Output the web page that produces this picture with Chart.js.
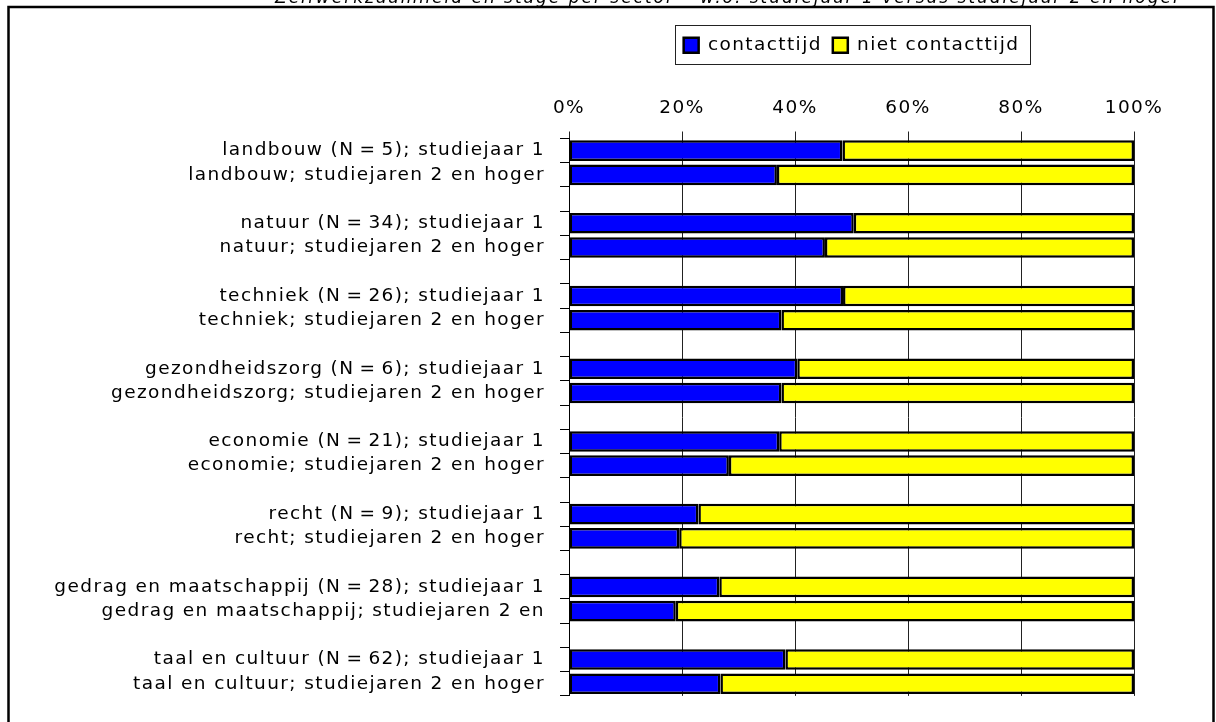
<!DOCTYPE html>
<html>
<head>
<meta charset="utf-8">
<script src="https://cdn.jsdelivr.net/npm/chart.js@4"></script>
<style>
  html, body { margin: 0; padding: 0; background: #fff; }
  #chart { display: block; }
</style>
</head>
<body>
<canvas id="chart" width="1216" height="722"></canvas>
<script>
const chartTitle = 'Zelfwerkzaamheid en stage per sector – w.o. studiejaar 1 versus studiejaar 2 en hoger';

const categories = [
  'landbouw (N\u2009=\u20095); studiejaar 1',
  'landbouw; studiejaren 2 en hoger',
  '',
  'natuur (N\u2009=\u200934); studiejaar 1',
  'natuur; studiejaren 2 en hoger',
  '',
  'techniek (N\u2009=\u200926); studiejaar 1',
  'techniek; studiejaren 2 en hoger',
  '',
  'gezondheidszorg (N\u2009=\u20096); studiejaar 1',
  'gezondheidszorg; studiejaren 2 en hoger',
  '',
  'economie (N\u2009=\u200921); studiejaar 1',
  'economie; studiejaren 2 en hoger',
  '',
  'recht (N\u2009=\u20099); studiejaar 1',
  'recht; studiejaren 2 en hoger',
  '',
  'gedrag en maatschappij (N\u2009=\u200928); studiejaar 1',
  'gedrag en maatschappij; studiejaren 2 en',
  '',
  'taal en cultuur (N\u2009=\u200962); studiejaar 1',
  'taal en cultuur; studiejaren 2 en hoger'
];

const seriesNames = ['contacttijd', 'niet contacttijd'];

const contacttijd = [48.4, 36.8, null, 50.4, 45.3, null, 48.5, 37.6, null, 40.4, 37.6, null,
                     37.2, 28.3, null, 22.9, 19.5, null, 26.6, 18.9, null, 38.3, 26.8];
const nietContacttijd = [51.6, 63.2, null, 49.6, 54.7, null, 51.5, 62.4, null, 59.6, 62.4, null,
                         62.8, 71.7, null, 77.1, 80.5, null, 73.4, 81.1, null, 61.7, 73.2];

const tickLabels = ['0%', '20%', '40%', '60%', '80%', '100%'];

const LETTER_SPACING = '1.4px';

Chart.defaults.font.family = '"DejaVu Sans", sans-serif';
Chart.defaults.font.size = 18.5;
Chart.defaults.color = '#000';

// wide text like the original (Lucida-ish)
const spacingPlugin = {
  id: 'spacing',
  beforeUpdate(chart) { chart.ctx.letterSpacing = LETTER_SPACING; },
  beforeDraw(chart) { chart.ctx.letterSpacing = LETTER_SPACING; }
};

const framePlugin = {
  id: 'frame',
  afterDraw(chart) {
    const ctx = chart.ctx;
    ctx.save();
    // outer border
    ctx.strokeStyle = '#000';
    ctx.lineWidth = 2.5;
    ctx.strokeRect(8.5, 7, 1205, 740);

    // legend frame
    const boxes = chart.legend.legendHitBoxes;
    if (boxes && boxes.length) {
      const first = boxes[0];
      const last = boxes[boxes.length - 1];
      ctx.lineWidth = 1;
      ctx.strokeStyle = '#222';
      ctx.strokeRect(Math.round(first.left - 9) + 0.5, 25.5,
        Math.round(last.left + last.width - first.left + 19), 39);
    }

    // title, cut off at the top
    ctx.font = 'italic 17px "DejaVu Sans"';
    ctx.letterSpacing = '0px';
    const w = ctx.measureText(chartTitle).width;
    const sp = (907 - w) / chartTitle.length;
    ctx.letterSpacing = sp + 'px';
    ctx.fillStyle = '#000';
    ctx.textAlign = 'left';
    ctx.textBaseline = 'alphabetic';
    ctx.fillText(chartTitle, 275, 3);
    ctx.restore();
  }
};

new Chart(document.getElementById('chart'), {
  type: 'bar',
  data: {
    labels: categories,
    datasets: [
      {
        label: seriesNames[0],
        data: contacttijd,
        backgroundColor: '#0000ff',
        borderColor: '#000',
        borderWidth: 2.5,
        borderSkipped: false,
        barPercentage: 0.85,
        categoryPercentage: 1.0
      },
      {
        label: seriesNames[1],
        data: nietContacttijd,
        backgroundColor: '#ffff00',
        borderColor: '#000',
        borderWidth: 2.5,
        borderSkipped: false,
        barPercentage: 0.85,
        categoryPercentage: 1.0
      }
    ]
  },
  options: {
    indexAxis: 'y',
    responsive: false,
    animation: false,
    layout: {
      padding: { top: 25, right: 82, bottom: 26, left: 0 }
    },
    scales: {
      x: {
        position: 'top',
        stacked: true,
        min: 0,
        max: 100,
        ticks: {
          stepSize: 20,
          padding: 12,
          callback: (v) => tickLabels[Math.round(v / 20)]
        },
        grid: {
          color: '#222',
          lineWidth: 1,
          tickLength: 7,
          drawOnChartArea: true
        },
        border: { display: false },
        afterFit: (scale) => { scale.height = 74; }
      },
      y: {
        stacked: true,
        ticks: {
          autoSkip: false,
          padding: 15
        },
        grid: {
          color: '#000',
          lineWidth: 1,
          tickLength: 9,
          drawOnChartArea: false
        },
        border: { display: true, color: '#000', width: 1 },
        afterFit: (scale) => { scale.width = 569; }
      }
    },
    plugins: {
      legend: {
        position: 'top',
        fullSize: false,
        labels: {
          boxWidth: 15,
          boxHeight: 15,
          padding: 11
        }
      },
      tooltip: { enabled: false }
    }
  },
  plugins: [spacingPlugin, framePlugin]
});
</script>
</body>
</html>
